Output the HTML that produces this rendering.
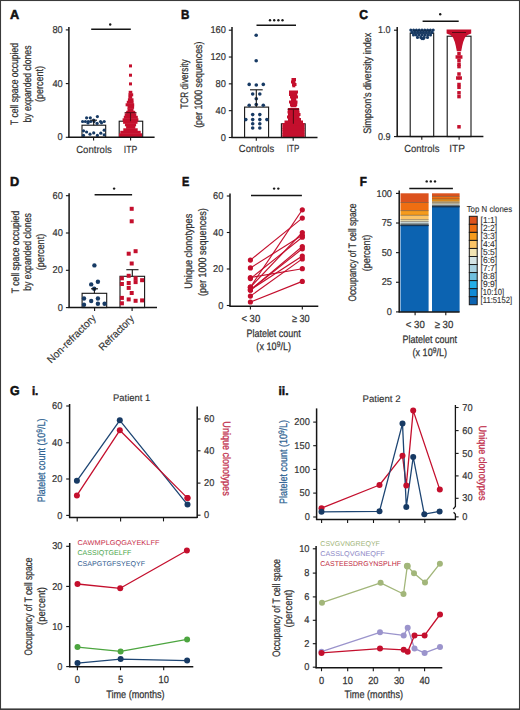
<!DOCTYPE html><html><head><meta charset="utf-8"><style>html,body{margin:0;padding:0;background:#fff;}svg{display:block;}text{font-family:"Liberation Sans",sans-serif;}</style></head><body>
<svg width="520" height="710" viewBox="0 0 520 710" text-rendering="geometricPrecision">
<rect x="0" y="0" width="520" height="710" fill="#fff"/>
<text x="10" y="19.3" font-size="13" fill="#111" text-anchor="start" stroke="#111" stroke-width="0.55" font-weight="bold" textLength="9.2" lengthAdjust="spacingAndGlyphs">A</text>
<text transform="translate(17.9 84) rotate(-90)" x="0" y="0" font-size="10.8" fill="#333" text-anchor="middle" stroke="#333" stroke-width="0.25" textLength="82" lengthAdjust="spacingAndGlyphs">T cell space occupied</text>
<text transform="translate(30.5 84) rotate(-90)" x="0" y="0" font-size="10.8" fill="#333" text-anchor="middle" stroke="#333" stroke-width="0.25" textLength="77" lengthAdjust="spacingAndGlyphs">by expanded clones</text>
<text transform="translate(42.9 84) rotate(-90)" x="0" y="0" font-size="10.8" fill="#333" text-anchor="middle" stroke="#333" stroke-width="0.25" textLength="36" lengthAdjust="spacingAndGlyphs">(percent)</text>
<rect x="82" y="125.2" width="23.7" height="12.1" fill="none" stroke="#151515" stroke-width="1.1"/>
<circle cx="86.6" cy="117.8" r="1.6" fill="#173a64"/>
<circle cx="90.3" cy="117.8" r="1.6" fill="#173a64"/>
<circle cx="97.4" cy="116.6" r="1.6" fill="#173a64"/>
<circle cx="82.6" cy="121.5" r="1.6" fill="#173a64"/>
<circle cx="85.4" cy="121.5" r="1.6" fill="#173a64"/>
<circle cx="88.2" cy="121.5" r="1.6" fill="#173a64"/>
<circle cx="90.6" cy="121.5" r="1.6" fill="#173a64"/>
<circle cx="94" cy="121.5" r="1.6" fill="#173a64"/>
<circle cx="100.5" cy="121.5" r="1.6" fill="#173a64"/>
<circle cx="104.2" cy="121.5" r="1.6" fill="#173a64"/>
<circle cx="97.1" cy="123.4" r="1.6" fill="#173a64"/>
<circle cx="93.7" cy="120" r="1.6" fill="#173a64"/>
<circle cx="83.5" cy="130.8" r="1.6" fill="#173a64"/>
<circle cx="86.6" cy="132" r="1.6" fill="#173a64"/>
<circle cx="90" cy="134.2" r="1.6" fill="#173a64"/>
<circle cx="93.7" cy="132.9" r="1.6" fill="#173a64"/>
<circle cx="97.4" cy="135.4" r="1.6" fill="#173a64"/>
<circle cx="100.8" cy="133.2" r="1.6" fill="#173a64"/>
<circle cx="104.2" cy="130.2" r="1.6" fill="#173a64"/>
<circle cx="83.5" cy="135.4" r="1.6" fill="#173a64"/>
<circle cx="104.2" cy="134.8" r="1.6" fill="#173a64"/>
<circle cx="88" cy="123" r="1.6" fill="#173a64"/>
<circle cx="101.5" cy="122.8" r="1.6" fill="#173a64"/>
<line x1="93.7" y1="125.2" x2="93.7" y2="120.2" stroke="#151515" stroke-width="1.1"/>
<line x1="90.5" y1="120.2" x2="97" y2="120.2" stroke="#151515" stroke-width="1.1"/>
<rect x="119.2" y="121.2" width="23.5" height="16.1" fill="none" stroke="#151515" stroke-width="1.1"/>
<rect x="128.7" y="90.8" width="3.6" height="3" fill="#c40f2d"/>
<rect x="128.4" y="93.3" width="4.8" height="3" fill="#c40f2d"/>
<rect x="128.4" y="95.8" width="3.8" height="3" fill="#c40f2d"/>
<rect x="127.9" y="98.3" width="5.6" height="3" fill="#c40f2d"/>
<rect x="126.8" y="100.8" width="6.8" height="3" fill="#c40f2d"/>
<rect x="125.6" y="103.3" width="8.6" height="3" fill="#c40f2d"/>
<rect x="127.5" y="105.8" width="6.6" height="3" fill="#c40f2d"/>
<rect x="127.5" y="108.3" width="6" height="3" fill="#c40f2d"/>
<rect x="126.2" y="110.8" width="9" height="3" fill="#c40f2d"/>
<rect x="124.7" y="113.3" width="11.6" height="3" fill="#c40f2d"/>
<rect x="123.8" y="115.8" width="14" height="3" fill="#c40f2d"/>
<rect x="122.6" y="118.3" width="15.8" height="3" fill="#c40f2d"/>
<rect x="123.1" y="120.8" width="14.4" height="3" fill="#c40f2d"/>
<rect x="124.9" y="123.3" width="11.2" height="3" fill="#c40f2d"/>
<rect x="126.1" y="125.8" width="9.2" height="3" fill="#c40f2d"/>
<rect x="123.3" y="128.3" width="14.4" height="3" fill="#c40f2d"/>
<rect x="120.3" y="130.8" width="20.4" height="3" fill="#c40f2d"/>
<rect x="119" y="133.3" width="23" height="3" fill="#c40f2d"/>
<rect x="119" y="135.3" width="23" height="1.9" fill="#c40f2d"/>
<rect x="129" y="64.4" width="3" height="3" fill="#c40f2d"/>
<rect x="129" y="73.7" width="3" height="3" fill="#c40f2d"/>
<rect x="129" y="82.4" width="3" height="3" fill="#c40f2d"/>
<line x1="130.5" y1="112.7" x2="130.5" y2="121.2" stroke="#5a0a14" stroke-width="1.1"/>
<line x1="124.6" y1="112.7" x2="136.5" y2="112.7" stroke="#5a0a14" stroke-width="1.1"/>
<line x1="68.9" y1="27" x2="68.9" y2="137.7" stroke="#151515" stroke-width="1.5"/>
<line x1="68.3" y1="137.3" x2="154.6" y2="137.3" stroke="#151515" stroke-width="1.5"/>
<line x1="65.8" y1="137.3" x2="68.9" y2="137.3" stroke="#151515" stroke-width="1.1"/>
<text x="62.7" y="140.4" font-size="9.9" fill="#333" text-anchor="end" stroke="#333" stroke-width="0.2" textLength="5.15" lengthAdjust="spacingAndGlyphs">0</text>
<line x1="65.8" y1="83.6" x2="68.9" y2="83.6" stroke="#151515" stroke-width="1.1"/>
<text x="62.7" y="86.7" font-size="9.9" fill="#333" text-anchor="end" stroke="#333" stroke-width="0.2" textLength="10.3" lengthAdjust="spacingAndGlyphs">40</text>
<line x1="65.8" y1="29.9" x2="68.9" y2="29.9" stroke="#151515" stroke-width="1.1"/>
<text x="62.7" y="33" font-size="9.9" fill="#333" text-anchor="end" stroke="#333" stroke-width="0.2" textLength="10.3" lengthAdjust="spacingAndGlyphs">80</text>
<line x1="93.6" y1="137.3" x2="93.6" y2="140.5" stroke="#151515" stroke-width="1.1"/>
<line x1="130.6" y1="137.3" x2="130.6" y2="140.5" stroke="#151515" stroke-width="1.1"/>
<text x="94" y="152.8" font-size="10.3" fill="#333" text-anchor="middle" stroke="#333" stroke-width="0.15" textLength="35.7" lengthAdjust="spacingAndGlyphs">Controls</text>
<text x="130.5" y="152.8" font-size="10.3" fill="#333" text-anchor="middle" stroke="#333" stroke-width="0.15" textLength="13.5" lengthAdjust="spacingAndGlyphs">ITP</text>
<line x1="91.2" y1="29.3" x2="130.8" y2="29.3" stroke="#151515" stroke-width="1.45"/>
<circle cx="110.2" cy="24.5" r="1.2" fill="#1a1a1a"/>
<text x="181" y="19.3" font-size="13" fill="#111" text-anchor="start" stroke="#111" stroke-width="0.55" font-weight="bold" textLength="8.4" lengthAdjust="spacingAndGlyphs">B</text>
<text transform="translate(188 84) rotate(-90)" x="0" y="0" font-size="10.8" fill="#333" text-anchor="middle" stroke="#333" stroke-width="0.25" textLength="49.4" lengthAdjust="spacingAndGlyphs">TCR diversity</text>
<text transform="translate(201.8 84.7) rotate(-90)" x="0" y="0" font-size="10.8" fill="#333" text-anchor="middle" stroke="#333" stroke-width="0.25" textLength="86.3" lengthAdjust="spacingAndGlyphs">(per 1000 sequences)</text>
<rect x="244.6" y="107.1" width="24" height="30.4" fill="none" stroke="#151515" stroke-width="1.1"/>
<circle cx="256.2" cy="35.2" r="1.8" fill="#173a64"/>
<circle cx="256.2" cy="60.8" r="1.8" fill="#173a64"/>
<circle cx="249.2" cy="84.4" r="1.8" fill="#173a64"/>
<circle cx="256.3" cy="85" r="1.8" fill="#173a64"/>
<circle cx="263.3" cy="84.4" r="1.8" fill="#173a64"/>
<circle cx="252.7" cy="94" r="1.8" fill="#173a64"/>
<circle cx="259.8" cy="94" r="1.8" fill="#173a64"/>
<circle cx="256.3" cy="98.8" r="1.8" fill="#173a64"/>
<circle cx="249.2" cy="105.2" r="1.8" fill="#173a64"/>
<circle cx="256.3" cy="104.5" r="1.8" fill="#173a64"/>
<circle cx="263.3" cy="105.2" r="1.8" fill="#173a64"/>
<circle cx="252.7" cy="114.6" r="1.8" fill="#173a64"/>
<circle cx="259.8" cy="114.6" r="1.8" fill="#173a64"/>
<circle cx="245.8" cy="119.6" r="1.8" fill="#173a64"/>
<circle cx="252.7" cy="119.6" r="1.8" fill="#173a64"/>
<circle cx="259.8" cy="119.6" r="1.8" fill="#173a64"/>
<circle cx="266.9" cy="119.6" r="1.8" fill="#173a64"/>
<circle cx="252.7" cy="123.8" r="1.8" fill="#173a64"/>
<circle cx="259.8" cy="123.8" r="1.8" fill="#173a64"/>
<circle cx="252.7" cy="128" r="1.8" fill="#173a64"/>
<circle cx="259.8" cy="128" r="1.8" fill="#173a64"/>
<line x1="256.3" y1="107.1" x2="256.3" y2="89.8" stroke="#151515" stroke-width="1.1"/>
<line x1="250" y1="89.8" x2="262.7" y2="89.8" stroke="#151515" stroke-width="1.1"/>
<rect x="281.4" y="123.8" width="23.8" height="13.7" fill="none" stroke="#151515" stroke-width="1.1"/>
<rect x="291.5" y="78" width="4.5" height="3" fill="#c40f2d"/>
<rect x="291" y="80.5" width="4.5" height="3" fill="#c40f2d"/>
<rect x="292" y="83" width="4.5" height="3" fill="#c40f2d"/>
<rect x="292.3" y="85.5" width="3" height="1.8" fill="#c40f2d"/>
<rect x="289" y="90.5" width="9" height="3" fill="#c40f2d"/>
<rect x="289" y="93" width="8.2" height="3" fill="#c40f2d"/>
<rect x="290" y="95.5" width="8" height="3" fill="#c40f2d"/>
<rect x="291" y="98" width="5.3" height="3" fill="#c40f2d"/>
<rect x="289" y="100.5" width="8.5" height="3" fill="#c40f2d"/>
<rect x="290" y="103" width="7.2" height="3" fill="#c40f2d"/>
<rect x="290.5" y="105.5" width="6" height="1.8" fill="#c40f2d"/>
<rect x="288" y="108" width="11" height="3" fill="#c40f2d"/>
<rect x="287.5" y="110.5" width="12" height="3" fill="#c40f2d"/>
<rect x="288" y="113" width="12.5" height="3" fill="#c40f2d"/>
<rect x="287" y="115.5" width="12.5" height="3" fill="#c40f2d"/>
<rect x="288" y="118" width="13" height="3" fill="#c40f2d"/>
<rect x="284.5" y="120.5" width="18.5" height="3" fill="#c40f2d"/>
<rect x="282.5" y="123" width="22" height="3" fill="#c40f2d"/>
<rect x="282.3" y="125.5" width="22.3" height="3" fill="#c40f2d"/>
<rect x="282.3" y="128" width="22.3" height="3" fill="#c40f2d"/>
<rect x="282.3" y="130.5" width="22.3" height="3" fill="#c40f2d"/>
<rect x="282.3" y="133" width="22.3" height="3" fill="#c40f2d"/>
<rect x="282.3" y="135.5" width="22.3" height="1.6" fill="#c40f2d"/>
<line x1="293.4" y1="109.2" x2="293.4" y2="123.8" stroke="#5a0a14" stroke-width="1.1"/>
<line x1="287.5" y1="109.2" x2="299.3" y2="109.2" stroke="#5a0a14" stroke-width="1.1"/>
<line x1="232" y1="27" x2="232" y2="137.9" stroke="#151515" stroke-width="1.5"/>
<line x1="231.4" y1="137.5" x2="317.5" y2="137.5" stroke="#151515" stroke-width="1.5"/>
<line x1="228.8" y1="137.5" x2="232" y2="137.5" stroke="#151515" stroke-width="1.1"/>
<text x="225.9" y="140.6" font-size="9.9" fill="#333" text-anchor="end" stroke="#333" stroke-width="0.2" textLength="5.15" lengthAdjust="spacingAndGlyphs">0</text>
<line x1="228.8" y1="110.67" x2="232" y2="110.67" stroke="#151515" stroke-width="1.1"/>
<text x="225.9" y="113.77" font-size="9.9" fill="#333" text-anchor="end" stroke="#333" stroke-width="0.2" textLength="10.3" lengthAdjust="spacingAndGlyphs">40</text>
<line x1="228.8" y1="83.85" x2="232" y2="83.85" stroke="#151515" stroke-width="1.1"/>
<text x="225.9" y="86.95" font-size="9.9" fill="#333" text-anchor="end" stroke="#333" stroke-width="0.2" textLength="10.3" lengthAdjust="spacingAndGlyphs">80</text>
<line x1="228.8" y1="57.03" x2="232" y2="57.03" stroke="#151515" stroke-width="1.1"/>
<text x="225.9" y="60.13" font-size="9.9" fill="#333" text-anchor="end" stroke="#333" stroke-width="0.2" textLength="15.45" lengthAdjust="spacingAndGlyphs">120</text>
<line x1="228.8" y1="30.2" x2="232" y2="30.2" stroke="#151515" stroke-width="1.1"/>
<text x="225.9" y="33.3" font-size="9.9" fill="#333" text-anchor="end" stroke="#333" stroke-width="0.2" textLength="15.45" lengthAdjust="spacingAndGlyphs">160</text>
<line x1="256.3" y1="137.5" x2="256.3" y2="140.7" stroke="#151515" stroke-width="1.1"/>
<line x1="293.2" y1="137.5" x2="293.2" y2="140.7" stroke="#151515" stroke-width="1.1"/>
<text x="256.5" y="152.4" font-size="10.3" fill="#333" text-anchor="middle" stroke="#333" stroke-width="0.15" textLength="35.5" lengthAdjust="spacingAndGlyphs">Controls</text>
<text x="293" y="152.4" font-size="10.3" fill="#333" text-anchor="middle" stroke="#333" stroke-width="0.15" textLength="12.5" lengthAdjust="spacingAndGlyphs">ITP</text>
<line x1="256.5" y1="25.2" x2="296" y2="25.2" stroke="#151515" stroke-width="1.45"/>
<circle cx="270" cy="20.3" r="1.2" fill="#1a1a1a"/>
<circle cx="274.2" cy="20.3" r="1.2" fill="#1a1a1a"/>
<circle cx="278.4" cy="20.3" r="1.2" fill="#1a1a1a"/>
<circle cx="282.5" cy="20.3" r="1.2" fill="#1a1a1a"/>
<text x="359.2" y="19.3" font-size="13" fill="#111" text-anchor="start" stroke="#111" stroke-width="0.55" font-weight="bold" textLength="8.7" lengthAdjust="spacingAndGlyphs">C</text>
<text transform="translate(370.7 83.3) rotate(-90)" x="0" y="0" font-size="10.8" fill="#333" text-anchor="middle" stroke="#333" stroke-width="0.25" textLength="101" lengthAdjust="spacingAndGlyphs">Simpson’s diversity index</text>
<rect x="410.2" y="33.1" width="23.5" height="103.5" fill="none" stroke="#151515" stroke-width="1.1"/>
<circle cx="410.8" cy="30.1" r="1.55" fill="#173a64"/>
<circle cx="413.6" cy="30.1" r="1.55" fill="#173a64"/>
<circle cx="416.4" cy="30.1" r="1.55" fill="#173a64"/>
<circle cx="419.2" cy="30.1" r="1.55" fill="#173a64"/>
<circle cx="422" cy="30.1" r="1.55" fill="#173a64"/>
<circle cx="424.8" cy="30.1" r="1.55" fill="#173a64"/>
<circle cx="427.6" cy="30.1" r="1.55" fill="#173a64"/>
<circle cx="430.4" cy="30.1" r="1.55" fill="#173a64"/>
<circle cx="433.2" cy="30.1" r="1.55" fill="#173a64"/>
<circle cx="412" cy="32.4" r="1.55" fill="#173a64"/>
<circle cx="414.86" cy="32.4" r="1.55" fill="#173a64"/>
<circle cx="417.71" cy="32.4" r="1.55" fill="#173a64"/>
<circle cx="420.57" cy="32.4" r="1.55" fill="#173a64"/>
<circle cx="423.43" cy="32.4" r="1.55" fill="#173a64"/>
<circle cx="426.29" cy="32.4" r="1.55" fill="#173a64"/>
<circle cx="429.14" cy="32.4" r="1.55" fill="#173a64"/>
<circle cx="432" cy="32.4" r="1.55" fill="#173a64"/>
<circle cx="413.5" cy="34.9" r="1.55" fill="#173a64"/>
<circle cx="416.33" cy="34.9" r="1.55" fill="#173a64"/>
<circle cx="419.17" cy="34.9" r="1.55" fill="#173a64"/>
<circle cx="422" cy="34.9" r="1.55" fill="#173a64"/>
<circle cx="424.83" cy="34.9" r="1.55" fill="#173a64"/>
<circle cx="427.67" cy="34.9" r="1.55" fill="#173a64"/>
<circle cx="430.5" cy="34.9" r="1.55" fill="#173a64"/>
<circle cx="417.5" cy="37.4" r="1.55" fill="#173a64"/>
<circle cx="420.83" cy="37.4" r="1.55" fill="#173a64"/>
<circle cx="424.17" cy="37.4" r="1.55" fill="#173a64"/>
<circle cx="427.5" cy="37.4" r="1.55" fill="#173a64"/>
<circle cx="422" cy="38.6" r="1.55" fill="#173a64"/>
<circle cx="423.5" cy="38.6" r="1.55" fill="#173a64"/>
<line x1="413" y1="30.8" x2="431" y2="30.8" stroke="#0d2a4a" stroke-width="1"/>
<rect x="447.2" y="36.2" width="23.8" height="100.4" fill="none" stroke="#151515" stroke-width="1.1"/>
<polygon fill="#c40f2d" points="446.6,29.4 471.2,29.4 471.2,33.4 467.5,35 465,37.5 463.2,42 462.2,46 461.2,51.2 456.8,51.2 455.8,46 454.8,42 453,37.5 450.5,35 446.6,33.4"/>
<rect x="457.25" y="51.95" width="3.5" height="3.5" fill="#c40f2d"/>
<rect x="455.55" y="55.25" width="3.5" height="3.5" fill="#c40f2d"/>
<rect x="458.95" y="55.25" width="3.5" height="3.5" fill="#c40f2d"/>
<rect x="457.25" y="58.55" width="3.5" height="3.5" fill="#c40f2d"/>
<rect x="457.25" y="62.45" width="3.5" height="3.5" fill="#c40f2d"/>
<rect x="457.25" y="64.85" width="3.5" height="3.5" fill="#c40f2d"/>
<rect x="457.25" y="72.25" width="3.5" height="3.5" fill="#c40f2d"/>
<rect x="456.05" y="76.25" width="3.5" height="3.5" fill="#c40f2d"/>
<rect x="458.45" y="76.25" width="3.5" height="3.5" fill="#c40f2d"/>
<rect x="457.25" y="82.75" width="3.5" height="3.5" fill="#c40f2d"/>
<rect x="457.25" y="85.55" width="3.5" height="3.5" fill="#c40f2d"/>
<rect x="457.25" y="91.05" width="3.5" height="3.5" fill="#c40f2d"/>
<rect x="457.25" y="94.85" width="3.5" height="3.5" fill="#c40f2d"/>
<rect x="457.25" y="125.05" width="3.5" height="3.5" fill="#c40f2d"/>
<line x1="452" y1="32.5" x2="466" y2="32.5" stroke="#5a0a14" stroke-width="1"/>
<line x1="397.2" y1="27" x2="397.2" y2="137" stroke="#151515" stroke-width="1.5"/>
<line x1="396.6" y1="136.6" x2="483.4" y2="136.6" stroke="#151515" stroke-width="1.5"/>
<line x1="394" y1="30.2" x2="397.2" y2="30.2" stroke="#151515" stroke-width="1.1"/>
<text x="390.6" y="33.3" font-size="9.9" fill="#333" text-anchor="end" stroke="#333" stroke-width="0.2" textLength="12.6" lengthAdjust="spacingAndGlyphs">1.0</text>
<line x1="394" y1="136.6" x2="397.2" y2="136.6" stroke="#151515" stroke-width="1.1"/>
<text x="390.6" y="139.7" font-size="9.9" fill="#333" text-anchor="end" stroke="#333" stroke-width="0.2" textLength="12.6" lengthAdjust="spacingAndGlyphs">0.9</text>
<line x1="421.8" y1="136.6" x2="421.8" y2="139.8" stroke="#151515" stroke-width="1.1"/>
<line x1="459.1" y1="136.6" x2="459.1" y2="139.8" stroke="#151515" stroke-width="1.1"/>
<text x="421.8" y="152.3" font-size="10.3" fill="#333" text-anchor="middle" stroke="#333" stroke-width="0.15" textLength="35.3" lengthAdjust="spacingAndGlyphs">Controls</text>
<text x="457.1" y="152.3" font-size="10.3" fill="#333" text-anchor="middle" stroke="#333" stroke-width="0.15" textLength="15.8" lengthAdjust="spacingAndGlyphs">ITP</text>
<line x1="422.6" y1="21.2" x2="458.7" y2="21.2" stroke="#151515" stroke-width="1.45"/>
<circle cx="440.2" cy="14.2" r="1.2" fill="#1a1a1a"/>
<text x="10" y="186" font-size="13" fill="#111" text-anchor="start" stroke="#111" stroke-width="0.55" font-weight="bold" textLength="9.2" lengthAdjust="spacingAndGlyphs">D</text>
<text transform="translate(18.8 252) rotate(-90)" x="0" y="0" font-size="10.8" fill="#333" text-anchor="middle" stroke="#333" stroke-width="0.25" textLength="82.3" lengthAdjust="spacingAndGlyphs">T cell space occupied</text>
<text transform="translate(31.3 252) rotate(-90)" x="0" y="0" font-size="10.8" fill="#333" text-anchor="middle" stroke="#333" stroke-width="0.25" textLength="77.7" lengthAdjust="spacingAndGlyphs">by expanded clones</text>
<text transform="translate(43.8 252) rotate(-90)" x="0" y="0" font-size="10.8" fill="#333" text-anchor="middle" stroke="#333" stroke-width="0.25" textLength="36.6" lengthAdjust="spacingAndGlyphs">(percent)</text>
<rect x="82.1" y="293.3" width="24.6" height="14.3" fill="none" stroke="#151515" stroke-width="1.1"/>
<circle cx="94.4" cy="265.4" r="2.2" fill="#173a64"/>
<circle cx="97.9" cy="281.7" r="2.2" fill="#173a64"/>
<circle cx="91.2" cy="284.4" r="2.2" fill="#173a64"/>
<circle cx="94.2" cy="288.8" r="2.2" fill="#173a64"/>
<circle cx="84" cy="298.5" r="2.2" fill="#173a64"/>
<circle cx="91.2" cy="301" r="2.2" fill="#173a64"/>
<circle cx="97.9" cy="298.5" r="2.2" fill="#173a64"/>
<circle cx="84" cy="304.8" r="2.2" fill="#173a64"/>
<circle cx="97.9" cy="303.8" r="2.2" fill="#173a64"/>
<circle cx="104.6" cy="303.8" r="2.2" fill="#173a64"/>
<line x1="94.4" y1="293.3" x2="94.4" y2="288.8" stroke="#151515" stroke-width="1.1"/>
<line x1="91" y1="288.8" x2="98" y2="288.8" stroke="#151515" stroke-width="1.1"/>
<rect x="120" y="276.3" width="24.6" height="31.3" fill="none" stroke="#151515" stroke-width="1.1"/>
<line x1="132.3" y1="276.3" x2="132.3" y2="269.7" stroke="#151515" stroke-width="1.1"/>
<line x1="126.3" y1="269.7" x2="138.5" y2="269.7" stroke="#151515" stroke-width="1.1"/>
<rect x="129.7" y="206.8" width="4" height="4" fill="#c40f2d"/>
<rect x="129.7" y="219.3" width="4" height="4" fill="#c40f2d"/>
<rect x="126.7" y="251.7" width="4" height="4" fill="#c40f2d"/>
<rect x="133.6" y="249.2" width="4" height="4" fill="#c40f2d"/>
<rect x="129.7" y="261.5" width="4" height="4" fill="#c40f2d"/>
<rect x="126.7" y="273.8" width="4" height="4" fill="#c40f2d"/>
<rect x="119.9" y="276.3" width="4" height="4" fill="#c40f2d"/>
<rect x="133.6" y="276.3" width="4" height="4" fill="#c40f2d"/>
<rect x="140.1" y="278.2" width="4" height="4" fill="#c40f2d"/>
<rect x="119.9" y="282" width="4" height="4" fill="#c40f2d"/>
<rect x="126.7" y="281" width="4" height="4" fill="#c40f2d"/>
<rect x="133.6" y="280.1" width="4" height="4" fill="#c40f2d"/>
<rect x="126.7" y="285.9" width="4" height="4" fill="#c40f2d"/>
<rect x="129.7" y="291" width="4" height="4" fill="#c40f2d"/>
<rect x="119.9" y="295.9" width="4" height="4" fill="#c40f2d"/>
<rect x="126.7" y="297.4" width="4" height="4" fill="#c40f2d"/>
<rect x="133.6" y="298.8" width="4" height="4" fill="#c40f2d"/>
<rect x="140.1" y="298.4" width="4" height="4" fill="#c40f2d"/>
<rect x="119.9" y="301.3" width="4" height="4" fill="#c40f2d"/>
<line x1="69.1" y1="193.2" x2="69.1" y2="308" stroke="#151515" stroke-width="1.5"/>
<line x1="68.5" y1="307.6" x2="157" y2="307.6" stroke="#151515" stroke-width="1.5"/>
<line x1="65.9" y1="307.6" x2="69.1" y2="307.6" stroke="#151515" stroke-width="1.1"/>
<text x="62.9" y="310.7" font-size="9.9" fill="#333" text-anchor="end" stroke="#333" stroke-width="0.2" textLength="5.15" lengthAdjust="spacingAndGlyphs">0</text>
<line x1="65.9" y1="270.3" x2="69.1" y2="270.3" stroke="#151515" stroke-width="1.1"/>
<text x="62.9" y="273.4" font-size="9.9" fill="#333" text-anchor="end" stroke="#333" stroke-width="0.2" textLength="10.3" lengthAdjust="spacingAndGlyphs">20</text>
<line x1="65.9" y1="233" x2="69.1" y2="233" stroke="#151515" stroke-width="1.1"/>
<text x="62.9" y="236.1" font-size="9.9" fill="#333" text-anchor="end" stroke="#333" stroke-width="0.2" textLength="10.3" lengthAdjust="spacingAndGlyphs">40</text>
<line x1="65.9" y1="195.7" x2="69.1" y2="195.7" stroke="#151515" stroke-width="1.1"/>
<text x="62.9" y="198.8" font-size="9.9" fill="#333" text-anchor="end" stroke="#333" stroke-width="0.2" textLength="10.3" lengthAdjust="spacingAndGlyphs">60</text>
<line x1="94.6" y1="307.6" x2="94.6" y2="311" stroke="#151515" stroke-width="1.1"/>
<line x1="132.1" y1="307.6" x2="132.1" y2="311" stroke="#151515" stroke-width="1.1"/>
<text transform="translate(96.6 318.6) rotate(-45)" x="0" y="0" font-size="10.3" fill="#333" text-anchor="end" stroke="#333" stroke-width="0.15" textLength="64" lengthAdjust="spacingAndGlyphs">Non-refractory</text>
<text transform="translate(134.6 319.4) rotate(-45)" x="0" y="0" font-size="10.3" fill="#333" text-anchor="end" stroke="#333" stroke-width="0.15" textLength="45" lengthAdjust="spacingAndGlyphs">Refractory</text>
<line x1="94.6" y1="194.8" x2="132.1" y2="194.8" stroke="#151515" stroke-width="1.45"/>
<circle cx="114.1" cy="188.6" r="1.2" fill="#1a1a1a"/>
<text x="181.9" y="186.3" font-size="13" fill="#111" text-anchor="start" stroke="#111" stroke-width="0.55" font-weight="bold" textLength="7.3" lengthAdjust="spacingAndGlyphs">E</text>
<text transform="translate(191.5 251.3) rotate(-90)" x="0" y="0" font-size="10.8" fill="#333" text-anchor="middle" stroke="#333" stroke-width="0.25" textLength="75" lengthAdjust="spacingAndGlyphs">Unique clonotypes</text>
<text transform="translate(205.7 252.2) rotate(-90)" x="0" y="0" font-size="10.8" fill="#333" text-anchor="middle" stroke="#333" stroke-width="0.25" textLength="87.8" lengthAdjust="spacingAndGlyphs">(per 1000 sequences)</text>
<line x1="250.4" y1="260.1" x2="302.3" y2="218.1" stroke="#c40f2d" stroke-width="1.15"/>
<line x1="250.4" y1="267.9" x2="302.3" y2="235.3" stroke="#c40f2d" stroke-width="1.15"/>
<line x1="250.4" y1="277.5" x2="302.3" y2="268.7" stroke="#c40f2d" stroke-width="1.15"/>
<line x1="250.4" y1="287.2" x2="302.3" y2="209.8" stroke="#c40f2d" stroke-width="1.15"/>
<line x1="250.4" y1="287.2" x2="302.3" y2="232.5" stroke="#c40f2d" stroke-width="1.15"/>
<line x1="250.4" y1="289.9" x2="302.3" y2="246.5" stroke="#c40f2d" stroke-width="1.15"/>
<line x1="250.4" y1="289.9" x2="302.3" y2="248.8" stroke="#c40f2d" stroke-width="1.15"/>
<line x1="250.4" y1="278.6" x2="302.3" y2="237.2" stroke="#c40f2d" stroke-width="1.15"/>
<line x1="250.4" y1="296.1" x2="302.3" y2="258.9" stroke="#c40f2d" stroke-width="1.15"/>
<line x1="250.4" y1="289.9" x2="302.3" y2="256.1" stroke="#c40f2d" stroke-width="1.15"/>
<line x1="250.4" y1="302" x2="302.3" y2="281.4" stroke="#c40f2d" stroke-width="1.15"/>
<circle cx="250.4" cy="260.1" r="2.6" fill="#c40f2d"/>
<circle cx="302.3" cy="218.1" r="2.6" fill="#c40f2d"/>
<circle cx="250.4" cy="267.9" r="2.6" fill="#c40f2d"/>
<circle cx="302.3" cy="235.3" r="2.6" fill="#c40f2d"/>
<circle cx="250.4" cy="277.5" r="2.6" fill="#c40f2d"/>
<circle cx="302.3" cy="268.7" r="2.6" fill="#c40f2d"/>
<circle cx="250.4" cy="287.2" r="2.6" fill="#c40f2d"/>
<circle cx="302.3" cy="209.8" r="2.6" fill="#c40f2d"/>
<circle cx="250.4" cy="287.2" r="2.6" fill="#c40f2d"/>
<circle cx="302.3" cy="232.5" r="2.6" fill="#c40f2d"/>
<circle cx="250.4" cy="289.9" r="2.6" fill="#c40f2d"/>
<circle cx="302.3" cy="246.5" r="2.6" fill="#c40f2d"/>
<circle cx="250.4" cy="289.9" r="2.6" fill="#c40f2d"/>
<circle cx="302.3" cy="248.8" r="2.6" fill="#c40f2d"/>
<circle cx="250.4" cy="278.6" r="2.6" fill="#c40f2d"/>
<circle cx="302.3" cy="237.2" r="2.6" fill="#c40f2d"/>
<circle cx="250.4" cy="296.1" r="2.6" fill="#c40f2d"/>
<circle cx="302.3" cy="258.9" r="2.6" fill="#c40f2d"/>
<circle cx="250.4" cy="289.9" r="2.6" fill="#c40f2d"/>
<circle cx="302.3" cy="256.1" r="2.6" fill="#c40f2d"/>
<circle cx="250.4" cy="302" r="2.6" fill="#c40f2d"/>
<circle cx="302.3" cy="281.4" r="2.6" fill="#c40f2d"/>
<line x1="230" y1="193.5" x2="230" y2="306.6" stroke="#151515" stroke-width="1.5"/>
<line x1="229.4" y1="306.2" x2="318.3" y2="306.2" stroke="#151515" stroke-width="1.5"/>
<line x1="226.8" y1="305.5" x2="230" y2="305.5" stroke="#151515" stroke-width="1.1"/>
<text x="223.3" y="308.6" font-size="9.9" fill="#333" text-anchor="end" stroke="#333" stroke-width="0.2" textLength="5.15" lengthAdjust="spacingAndGlyphs">0</text>
<line x1="226.8" y1="269" x2="230" y2="269" stroke="#151515" stroke-width="1.1"/>
<text x="223.3" y="272.1" font-size="9.9" fill="#333" text-anchor="end" stroke="#333" stroke-width="0.2" textLength="10.3" lengthAdjust="spacingAndGlyphs">20</text>
<line x1="226.8" y1="232.5" x2="230" y2="232.5" stroke="#151515" stroke-width="1.1"/>
<text x="223.3" y="235.6" font-size="9.9" fill="#333" text-anchor="end" stroke="#333" stroke-width="0.2" textLength="10.3" lengthAdjust="spacingAndGlyphs">40</text>
<line x1="226.8" y1="196" x2="230" y2="196" stroke="#151515" stroke-width="1.1"/>
<text x="223.3" y="199.1" font-size="9.9" fill="#333" text-anchor="end" stroke="#333" stroke-width="0.2" textLength="10.3" lengthAdjust="spacingAndGlyphs">60</text>
<line x1="250.4" y1="306.2" x2="250.4" y2="309.5" stroke="#151515" stroke-width="1.1"/>
<line x1="302.3" y1="306.2" x2="302.3" y2="309.5" stroke="#151515" stroke-width="1.1"/>
<text x="250.8" y="321.5" font-size="10.4" fill="#333" text-anchor="middle" stroke="#333" stroke-width="0.25" textLength="18.8" lengthAdjust="spacingAndGlyphs">&lt; 30</text>
<text x="300.8" y="321.5" font-size="10.4" fill="#333" text-anchor="middle" stroke="#333" stroke-width="0.25" textLength="17.8" lengthAdjust="spacingAndGlyphs">≥ 30</text>
<text x="273.6" y="336.9" font-size="10.8" fill="#333" text-anchor="middle" stroke="#333" stroke-width="0.25" textLength="54.2" lengthAdjust="spacingAndGlyphs">Platelet count</text>
<text x="273.7" y="350.1" font-size="10.8" fill="#333" text-anchor="middle" stroke="#333" stroke-width="0.25" textLength="34.7" lengthAdjust="spacingAndGlyphs">(x 10<tspan font-size="8" dy="-3.2">9</tspan><tspan dy="3.2">/L)</tspan></text>
<line x1="251" y1="195.4" x2="301.9" y2="195.4" stroke="#151515" stroke-width="1.45"/>
<circle cx="274.1" cy="188.6" r="1.2" fill="#1a1a1a"/>
<circle cx="278.3" cy="188.6" r="1.2" fill="#1a1a1a"/>
<text x="359.8" y="186.3" font-size="13" fill="#111" text-anchor="start" stroke="#111" stroke-width="0.55" font-weight="bold" textLength="7.1" lengthAdjust="spacingAndGlyphs">F</text>
<text transform="translate(356 252.6) rotate(-90)" x="0" y="0" font-size="10.8" fill="#333" text-anchor="middle" stroke="#333" stroke-width="0.25" textLength="98" lengthAdjust="spacingAndGlyphs">Occupancy of T cell space</text>
<text transform="translate(369.5 253) rotate(-90)" x="0" y="0" font-size="10.8" fill="#333" text-anchor="middle" stroke="#333" stroke-width="0.25" textLength="36.6" lengthAdjust="spacingAndGlyphs">(percent)</text>
<rect x="400.5" y="193.3" width="28.1" height="9.2" fill="#dc521d"/>
<rect x="400.5" y="202.5" width="28.1" height="8.1" fill="#ef6e11"/>
<rect x="400.5" y="210.6" width="28.1" height="4.7" fill="#f59b1d"/>
<rect x="400.5" y="215.3" width="28.1" height="4.4" fill="#fbc467"/>
<rect x="400.5" y="219.7" width="28.1" height="1.9" fill="#f1e4b4"/>
<rect x="400.5" y="221.6" width="28.1" height="1.8" fill="#d4e4e6"/>
<rect x="400.5" y="223.4" width="28.1" height="1.1" fill="#a8d2e2"/>
<rect x="400.5" y="224.5" width="28.1" height="0.5" fill="#6fc0e0"/>
<rect x="400.5" y="225" width="28.1" height="0.3" fill="#25afe9"/>
<rect x="400.5" y="225.3" width="28.1" height="0.3" fill="#108ad7"/>
<rect x="400.5" y="225.6" width="28.1" height="86.3" fill="#0c63b1"/>
<line x1="400.5" y1="202.5" x2="428.6" y2="202.5" stroke="#3a2a20" stroke-width="0.45"/>
<line x1="400.5" y1="210.6" x2="428.6" y2="210.6" stroke="#3a2a20" stroke-width="0.45"/>
<line x1="400.5" y1="215.3" x2="428.6" y2="215.3" stroke="#3a2a20" stroke-width="0.45"/>
<line x1="400.5" y1="219.7" x2="428.6" y2="219.7" stroke="#3a2a20" stroke-width="0.45"/>
<line x1="400.5" y1="221.6" x2="428.6" y2="221.6" stroke="#3a2a20" stroke-width="0.45"/>
<line x1="400.5" y1="223.4" x2="428.6" y2="223.4" stroke="#3a2a20" stroke-width="0.45"/>
<line x1="400.5" y1="224.5" x2="428.6" y2="224.5" stroke="#3a2a20" stroke-width="0.45"/>
<line x1="400.5" y1="225" x2="428.6" y2="225" stroke="#3a2a20" stroke-width="0.45"/>
<line x1="400.5" y1="225.3" x2="428.6" y2="225.3" stroke="#3a2a20" stroke-width="0.45"/>
<line x1="400.5" y1="225.6" x2="428.6" y2="225.6" stroke="#3a2a20" stroke-width="0.45"/>
<line x1="400.5" y1="225.6" x2="428.6" y2="225.6" stroke="#0b2f55" stroke-width="0.9"/>
<rect x="432" y="193.3" width="27.6" height="3.1" fill="#dc521d"/>
<rect x="432" y="196.4" width="27.6" height="2.7" fill="#ef6e11"/>
<rect x="432" y="199.1" width="27.6" height="2.1" fill="#f59b1d"/>
<rect x="432" y="201.2" width="27.6" height="1.3" fill="#fbc467"/>
<rect x="432" y="202.5" width="27.6" height="1.3" fill="#f1e4b4"/>
<rect x="432" y="203.8" width="27.6" height="1.5" fill="#d4e4e6"/>
<rect x="432" y="205.3" width="27.6" height="0.6" fill="#a8d2e2"/>
<rect x="432" y="205.9" width="27.6" height="0.3" fill="#6fc0e0"/>
<rect x="432" y="206.2" width="27.6" height="0.3" fill="#25afe9"/>
<rect x="432" y="206.5" width="27.6" height="0.3" fill="#108ad7"/>
<rect x="432" y="206.8" width="27.6" height="105.1" fill="#0c63b1"/>
<line x1="432" y1="196.4" x2="459.6" y2="196.4" stroke="#3a2a20" stroke-width="0.45"/>
<line x1="432" y1="199.1" x2="459.6" y2="199.1" stroke="#3a2a20" stroke-width="0.45"/>
<line x1="432" y1="201.2" x2="459.6" y2="201.2" stroke="#3a2a20" stroke-width="0.45"/>
<line x1="432" y1="202.5" x2="459.6" y2="202.5" stroke="#3a2a20" stroke-width="0.45"/>
<line x1="432" y1="203.8" x2="459.6" y2="203.8" stroke="#3a2a20" stroke-width="0.45"/>
<line x1="432" y1="205.3" x2="459.6" y2="205.3" stroke="#3a2a20" stroke-width="0.45"/>
<line x1="432" y1="205.9" x2="459.6" y2="205.9" stroke="#3a2a20" stroke-width="0.45"/>
<line x1="432" y1="206.2" x2="459.6" y2="206.2" stroke="#3a2a20" stroke-width="0.45"/>
<line x1="432" y1="206.5" x2="459.6" y2="206.5" stroke="#3a2a20" stroke-width="0.45"/>
<line x1="432" y1="206.8" x2="459.6" y2="206.8" stroke="#3a2a20" stroke-width="0.45"/>
<line x1="432" y1="206.8" x2="459.6" y2="206.8" stroke="#0b2f55" stroke-width="0.9"/>
<line x1="399.2" y1="190.5" x2="399.2" y2="312.3" stroke="#151515" stroke-width="1.5"/>
<line x1="398.6" y1="311.9" x2="459.6" y2="311.9" stroke="#151515" stroke-width="1.5"/>
<line x1="396" y1="311.9" x2="399.2" y2="311.9" stroke="#151515" stroke-width="1.1"/>
<text x="392" y="315" font-size="9.9" fill="#333" text-anchor="end" stroke="#333" stroke-width="0.2" textLength="5.15" lengthAdjust="spacingAndGlyphs">0</text>
<line x1="396" y1="282.27" x2="399.2" y2="282.27" stroke="#151515" stroke-width="1.1"/>
<text x="392" y="285.38" font-size="9.9" fill="#333" text-anchor="end" stroke="#333" stroke-width="0.2" textLength="10.3" lengthAdjust="spacingAndGlyphs">25</text>
<line x1="396" y1="252.65" x2="399.2" y2="252.65" stroke="#151515" stroke-width="1.1"/>
<text x="392" y="255.75" font-size="9.9" fill="#333" text-anchor="end" stroke="#333" stroke-width="0.2" textLength="10.3" lengthAdjust="spacingAndGlyphs">50</text>
<line x1="396" y1="223.02" x2="399.2" y2="223.02" stroke="#151515" stroke-width="1.1"/>
<text x="392" y="226.12" font-size="9.9" fill="#333" text-anchor="end" stroke="#333" stroke-width="0.2" textLength="10.3" lengthAdjust="spacingAndGlyphs">75</text>
<line x1="396" y1="193.4" x2="399.2" y2="193.4" stroke="#151515" stroke-width="1.1"/>
<text x="392" y="196.5" font-size="9.9" fill="#333" text-anchor="end" stroke="#333" stroke-width="0.2" textLength="15.45" lengthAdjust="spacingAndGlyphs">100</text>
<line x1="415.1" y1="311.9" x2="415.1" y2="315.3" stroke="#151515" stroke-width="1.1"/>
<line x1="445.8" y1="311.9" x2="445.8" y2="315.3" stroke="#151515" stroke-width="1.1"/>
<text x="415.3" y="327.9" font-size="10.4" fill="#333" text-anchor="middle" stroke="#333" stroke-width="0.25" textLength="19" lengthAdjust="spacingAndGlyphs">&lt; 30</text>
<text x="444" y="327.9" font-size="10.4" fill="#333" text-anchor="middle" stroke="#333" stroke-width="0.25" textLength="18.7" lengthAdjust="spacingAndGlyphs">≥ 30</text>
<text x="429.8" y="343.2" font-size="10.8" fill="#333" text-anchor="middle" stroke="#333" stroke-width="0.25" textLength="54.5" lengthAdjust="spacingAndGlyphs">Platelet count</text>
<text x="429.8" y="356.2" font-size="10.8" fill="#333" text-anchor="middle" stroke="#333" stroke-width="0.25" textLength="34.5" lengthAdjust="spacingAndGlyphs">(x 10<tspan font-size="8" dy="-3.2">9</tspan><tspan dy="3.2">/L)</tspan></text>
<line x1="409.3" y1="188.5" x2="452.9" y2="188.5" stroke="#151515" stroke-width="1.45"/>
<circle cx="426.7" cy="181.4" r="1.2" fill="#1a1a1a"/>
<circle cx="430.8" cy="181.4" r="1.2" fill="#1a1a1a"/>
<circle cx="435" cy="181.4" r="1.2" fill="#1a1a1a"/>
<text x="466.7" y="212.1" font-size="8.6" fill="#333" text-anchor="start" stroke="#333" stroke-width="0.12" textLength="45.4" lengthAdjust="spacingAndGlyphs">Top N clones</text>
<rect x="469.3" y="216.3" width="7.9" height="8.04" fill="#dc521d" stroke="#1a1a1a" stroke-width="1"/>
<text x="480.6" y="222.9" font-size="8.8" fill="#333" text-anchor="start" stroke="#333" stroke-width="0.12" textLength="16.5" lengthAdjust="spacingAndGlyphs">[1:1]</text>
<rect x="469.3" y="224.34" width="7.9" height="8.04" fill="#ef6e11" stroke="#1a1a1a" stroke-width="1"/>
<text x="480.6" y="230.94" font-size="8.8" fill="#333" text-anchor="start" stroke="#333" stroke-width="0.12" textLength="16.5" lengthAdjust="spacingAndGlyphs">[2:2]</text>
<rect x="469.3" y="232.38" width="7.9" height="8.04" fill="#f59b1d" stroke="#1a1a1a" stroke-width="1"/>
<text x="480.6" y="238.98" font-size="8.8" fill="#333" text-anchor="start" stroke="#333" stroke-width="0.12" textLength="16.5" lengthAdjust="spacingAndGlyphs">[3:3]</text>
<rect x="469.3" y="240.42" width="7.9" height="8.04" fill="#fbc467" stroke="#1a1a1a" stroke-width="1"/>
<text x="480.6" y="247.02" font-size="8.8" fill="#333" text-anchor="start" stroke="#333" stroke-width="0.12" textLength="16.5" lengthAdjust="spacingAndGlyphs">[4:4]</text>
<rect x="469.3" y="248.46" width="7.9" height="8.04" fill="#f1e4b4" stroke="#1a1a1a" stroke-width="1"/>
<text x="480.6" y="255.06" font-size="8.8" fill="#333" text-anchor="start" stroke="#333" stroke-width="0.12" textLength="16.5" lengthAdjust="spacingAndGlyphs">[5:5]</text>
<rect x="469.3" y="256.5" width="7.9" height="8.04" fill="#d4e4e6" stroke="#1a1a1a" stroke-width="1"/>
<text x="480.6" y="263.1" font-size="8.8" fill="#333" text-anchor="start" stroke="#333" stroke-width="0.12" textLength="16.5" lengthAdjust="spacingAndGlyphs">[6:6]</text>
<rect x="469.3" y="264.54" width="7.9" height="8.04" fill="#a8d2e2" stroke="#1a1a1a" stroke-width="1"/>
<text x="480.6" y="271.14" font-size="8.8" fill="#333" text-anchor="start" stroke="#333" stroke-width="0.12" textLength="16.5" lengthAdjust="spacingAndGlyphs">[7:7]</text>
<rect x="469.3" y="272.58" width="7.9" height="8.04" fill="#6fc0e0" stroke="#1a1a1a" stroke-width="1"/>
<text x="480.6" y="279.18" font-size="8.8" fill="#333" text-anchor="start" stroke="#333" stroke-width="0.12" textLength="16.5" lengthAdjust="spacingAndGlyphs">[8:8]</text>
<rect x="469.3" y="280.62" width="7.9" height="8.04" fill="#25afe9" stroke="#1a1a1a" stroke-width="1"/>
<text x="480.6" y="287.22" font-size="8.8" fill="#333" text-anchor="start" stroke="#333" stroke-width="0.12" textLength="16.5" lengthAdjust="spacingAndGlyphs">[9:9]</text>
<rect x="469.3" y="288.66" width="7.9" height="8.04" fill="#108ad7" stroke="#1a1a1a" stroke-width="1"/>
<text x="480.6" y="295.26" font-size="8.8" fill="#333" text-anchor="start" stroke="#333" stroke-width="0.12" textLength="23.5" lengthAdjust="spacingAndGlyphs">[10:10]</text>
<rect x="469.3" y="296.7" width="7.9" height="8.04" fill="#0c63b1" stroke="#1a1a1a" stroke-width="1"/>
<text x="480.6" y="303.3" font-size="8.8" fill="#333" text-anchor="start" stroke="#333" stroke-width="0.12" textLength="31.5" lengthAdjust="spacingAndGlyphs">[11:5152]</text>
<text x="10" y="395.4" font-size="13" fill="#111" text-anchor="start" stroke="#111" stroke-width="0.55" font-weight="bold" textLength="9.6" lengthAdjust="spacingAndGlyphs">G</text>
<text x="31.9" y="395.4" font-size="12" fill="#111" text-anchor="start" stroke="#111" stroke-width="0.5" font-weight="bold" textLength="6.4" lengthAdjust="spacingAndGlyphs">i.</text>
<text x="278.5" y="395.4" font-size="12" fill="#111" text-anchor="start" stroke="#111" stroke-width="0.5" font-weight="bold" textLength="10.1" lengthAdjust="spacingAndGlyphs">ii.</text>
<text x="131.6" y="401" font-size="9.6" fill="#333" text-anchor="middle" stroke="#333" stroke-width="0.15" textLength="37.2" lengthAdjust="spacingAndGlyphs">Patient 1</text>
<text transform="translate(45.3 460.4) rotate(-90)" x="0" y="0" font-size="10.8" fill="#2c5f91" text-anchor="middle" stroke="#2c5f91" stroke-width="0.25" textLength="83.6" lengthAdjust="spacingAndGlyphs">Platelet count (10<tspan font-size="8" dy="-3.2">9</tspan><tspan dy="3.2">/L)</tspan></text>
<text transform="translate(222.6 458.5) rotate(90)" x="0" y="0" font-size="10.8" fill="#c02846" text-anchor="middle" stroke="#c02846" stroke-width="0.25" textLength="74.3" lengthAdjust="spacingAndGlyphs">Unique clonotypes</text>
<line x1="69.6" y1="404" x2="69.6" y2="517.8" stroke="#151515" stroke-width="1.5"/>
<line x1="66.2" y1="515.4" x2="69.6" y2="515.4" stroke="#151515" stroke-width="1.1"/>
<text x="62.4" y="518.5" font-size="9.9" fill="#333" text-anchor="end" stroke="#333" stroke-width="0.2" textLength="5.15" lengthAdjust="spacingAndGlyphs">0</text>
<line x1="66.2" y1="479" x2="69.6" y2="479" stroke="#151515" stroke-width="1.1"/>
<text x="62.4" y="482.1" font-size="9.9" fill="#333" text-anchor="end" stroke="#333" stroke-width="0.2" textLength="10.3" lengthAdjust="spacingAndGlyphs">20</text>
<line x1="66.2" y1="442.8" x2="69.6" y2="442.8" stroke="#151515" stroke-width="1.1"/>
<text x="62.4" y="445.9" font-size="9.9" fill="#333" text-anchor="end" stroke="#333" stroke-width="0.2" textLength="10.3" lengthAdjust="spacingAndGlyphs">40</text>
<line x1="66.2" y1="406" x2="69.6" y2="406" stroke="#151515" stroke-width="1.1"/>
<text x="62.4" y="409.1" font-size="9.9" fill="#333" text-anchor="end" stroke="#333" stroke-width="0.2" textLength="10.3" lengthAdjust="spacingAndGlyphs">60</text>
<line x1="69" y1="517.5" x2="197.3" y2="517.5" stroke="#151515" stroke-width="1.5"/>
<line x1="77.2" y1="517.5" x2="77.2" y2="521.4" stroke="#151515" stroke-width="1.1"/>
<line x1="120.6" y1="517.5" x2="120.6" y2="521.4" stroke="#151515" stroke-width="1.1"/>
<line x1="163.5" y1="517.5" x2="163.5" y2="521.4" stroke="#151515" stroke-width="1.1"/>
<line x1="197.2" y1="406.5" x2="197.2" y2="518.1" stroke="#151515" stroke-width="1.5"/>
<line x1="197.2" y1="515.2" x2="200.5" y2="515.2" stroke="#151515" stroke-width="1.1"/>
<text x="204" y="518.3" font-size="9.9" fill="#333" text-anchor="start" stroke="#333" stroke-width="0.2" textLength="5.15" lengthAdjust="spacingAndGlyphs">0</text>
<line x1="197.2" y1="483.1" x2="200.5" y2="483.1" stroke="#151515" stroke-width="1.1"/>
<text x="204" y="486.2" font-size="9.9" fill="#333" text-anchor="start" stroke="#333" stroke-width="0.2" textLength="10.3" lengthAdjust="spacingAndGlyphs">20</text>
<line x1="197.2" y1="450.8" x2="200.5" y2="450.8" stroke="#151515" stroke-width="1.1"/>
<text x="204" y="453.9" font-size="9.9" fill="#333" text-anchor="start" stroke="#333" stroke-width="0.2" textLength="10.3" lengthAdjust="spacingAndGlyphs">40</text>
<line x1="197.2" y1="419" x2="200.5" y2="419" stroke="#151515" stroke-width="1.1"/>
<text x="204" y="422.1" font-size="9.9" fill="#333" text-anchor="start" stroke="#333" stroke-width="0.2" textLength="10.3" lengthAdjust="spacingAndGlyphs">60</text>
<polyline points="76.9,480.8 119.8,420.3 187.5,504.6" fill="none" stroke="#1d4573" stroke-width="1.3" stroke-linejoin="round"/>
<polyline points="76.9,495.4 119.8,430.3 187.5,498.1" fill="none" stroke="#c40f2d" stroke-width="1.3" stroke-linejoin="round"/>
<circle cx="76.9" cy="495.4" r="3" fill="#c40f2d"/>
<circle cx="119.8" cy="430.3" r="3" fill="#c40f2d"/>
<circle cx="187.5" cy="498.1" r="3" fill="#c40f2d"/>
<circle cx="76.9" cy="480.8" r="3" fill="#173a64"/>
<circle cx="119.8" cy="420.3" r="3" fill="#173a64"/>
<circle cx="187.5" cy="504.6" r="3" fill="#173a64"/>
<circle cx="187.5" cy="498.1" r="3" fill="#c40f2d"/>
<text transform="translate(31.6 606.6) rotate(-90)" x="0" y="0" font-size="10.8" fill="#333" text-anchor="middle" stroke="#333" stroke-width="0.25" textLength="98" lengthAdjust="spacingAndGlyphs">Occupancy of T cell space</text>
<text transform="translate(45.4 606) rotate(-90)" x="0" y="0" font-size="10.8" fill="#333" text-anchor="middle" stroke="#333" stroke-width="0.25" textLength="38" lengthAdjust="spacingAndGlyphs">(percent)</text>
<text x="77.5" y="544.6" font-size="7" fill="#c8304a" text-anchor="start" textLength="82" lengthAdjust="spacingAndGlyphs">CAWMPLGQGAYEKLFF</text>
<text x="77.5" y="555.1" font-size="7" fill="#4aa64a" text-anchor="start" textLength="53.8" lengthAdjust="spacingAndGlyphs">CASSIQTGELFF</text>
<text x="77.5" y="566.3" font-size="7" fill="#2e5a8e" text-anchor="start" textLength="67.5" lengthAdjust="spacingAndGlyphs">CSAPGTGFSYEQYF</text>
<line x1="69.7" y1="543" x2="69.7" y2="667.2" stroke="#151515" stroke-width="1.5"/>
<line x1="66.2" y1="666.6" x2="69.7" y2="666.6" stroke="#151515" stroke-width="1.1"/>
<text x="62.5" y="669.7" font-size="9.9" fill="#333" text-anchor="end" stroke="#333" stroke-width="0.2" textLength="5.15" lengthAdjust="spacingAndGlyphs">0</text>
<line x1="66.2" y1="626.6" x2="69.7" y2="626.6" stroke="#151515" stroke-width="1.1"/>
<text x="62.5" y="629.7" font-size="9.9" fill="#333" text-anchor="end" stroke="#333" stroke-width="0.2" textLength="10.3" lengthAdjust="spacingAndGlyphs">10</text>
<line x1="66.2" y1="586.4" x2="69.7" y2="586.4" stroke="#151515" stroke-width="1.1"/>
<text x="62.5" y="589.5" font-size="9.9" fill="#333" text-anchor="end" stroke="#333" stroke-width="0.2" textLength="10.3" lengthAdjust="spacingAndGlyphs">20</text>
<line x1="66.2" y1="546.3" x2="69.7" y2="546.3" stroke="#151515" stroke-width="1.1"/>
<text x="62.5" y="549.4" font-size="9.9" fill="#333" text-anchor="end" stroke="#333" stroke-width="0.2" textLength="10.3" lengthAdjust="spacingAndGlyphs">30</text>
<line x1="69.1" y1="666.8" x2="193.3" y2="666.8" stroke="#151515" stroke-width="1.5"/>
<line x1="77.4" y1="666.8" x2="77.4" y2="670.2" stroke="#151515" stroke-width="1.1"/>
<text x="77.4" y="682.9" font-size="10.4" fill="#333" text-anchor="middle" stroke="#333" stroke-width="0.25" textLength="5.15" lengthAdjust="spacingAndGlyphs">0</text>
<line x1="120.5" y1="666.8" x2="120.5" y2="670.2" stroke="#151515" stroke-width="1.1"/>
<text x="120.5" y="682.9" font-size="10.4" fill="#333" text-anchor="middle" stroke="#333" stroke-width="0.25" textLength="5.15" lengthAdjust="spacingAndGlyphs">5</text>
<line x1="163.7" y1="666.8" x2="163.7" y2="670.2" stroke="#151515" stroke-width="1.1"/>
<text x="163.7" y="682.9" font-size="10.4" fill="#333" text-anchor="middle" stroke="#333" stroke-width="0.25" textLength="10.3" lengthAdjust="spacingAndGlyphs">10</text>
<text x="135.4" y="698.1" font-size="10.8" fill="#333" text-anchor="middle" stroke="#333" stroke-width="0.25" textLength="58.4" lengthAdjust="spacingAndGlyphs">Time (months)</text>
<polyline points="77.5,584 120.2,588.3 186.9,550.5" fill="none" stroke="#c40f2d" stroke-width="1.3" stroke-linejoin="round"/>
<circle cx="77.5" cy="584" r="3" fill="#c40f2d"/>
<circle cx="120.2" cy="588.3" r="3" fill="#c40f2d"/>
<circle cx="186.9" cy="550.5" r="3" fill="#c40f2d"/>
<polyline points="77.5,647.1 120.6,651.4 187.1,639.4" fill="none" stroke="#4ca53f" stroke-width="1.3" stroke-linejoin="round"/>
<circle cx="77.5" cy="647.1" r="3" fill="#4ca53f"/>
<circle cx="120.6" cy="651.4" r="3" fill="#4ca53f"/>
<circle cx="187.1" cy="639.4" r="3" fill="#4ca53f"/>
<polyline points="77.5,663.1 120.6,659.1 187.1,660.6" fill="none" stroke="#1d4573" stroke-width="1.3" stroke-linejoin="round"/>
<circle cx="77.5" cy="663.1" r="3" fill="#173a64"/>
<circle cx="120.6" cy="659.1" r="3" fill="#173a64"/>
<circle cx="187.1" cy="660.6" r="3" fill="#173a64"/>
<text x="381.5" y="402" font-size="9.6" fill="#333" text-anchor="middle" stroke="#333" stroke-width="0.15" textLength="38" lengthAdjust="spacingAndGlyphs">Patient 2</text>
<text transform="translate(287 461.9) rotate(-90)" x="0" y="0" font-size="10.8" fill="#2c5f91" text-anchor="middle" stroke="#2c5f91" stroke-width="0.25" textLength="84" lengthAdjust="spacingAndGlyphs">Platelet count (10<tspan font-size="8" dy="-3.2">9</tspan><tspan dy="3.2">/L)</tspan></text>
<text transform="translate(478.6 463) rotate(90)" x="0" y="0" font-size="10.8" fill="#c02846" text-anchor="middle" stroke="#c02846" stroke-width="0.25" textLength="75" lengthAdjust="spacingAndGlyphs">Unique clonotypes</text>
<line x1="316.6" y1="408.4" x2="316.6" y2="519.9" stroke="#151515" stroke-width="1.5"/>
<line x1="313.2" y1="517" x2="316.6" y2="517" stroke="#151515" stroke-width="1.1"/>
<text x="309.8" y="520.1" font-size="9.9" fill="#333" text-anchor="end" stroke="#333" stroke-width="0.2" textLength="5.15" lengthAdjust="spacingAndGlyphs">0</text>
<line x1="313.2" y1="493.1" x2="316.6" y2="493.1" stroke="#151515" stroke-width="1.1"/>
<text x="309.8" y="496.2" font-size="9.9" fill="#333" text-anchor="end" stroke="#333" stroke-width="0.2" textLength="10.3" lengthAdjust="spacingAndGlyphs">50</text>
<line x1="313.2" y1="469.4" x2="316.6" y2="469.4" stroke="#151515" stroke-width="1.1"/>
<text x="309.8" y="472.5" font-size="9.9" fill="#333" text-anchor="end" stroke="#333" stroke-width="0.2" textLength="15.45" lengthAdjust="spacingAndGlyphs">100</text>
<line x1="313.2" y1="445.7" x2="316.6" y2="445.7" stroke="#151515" stroke-width="1.1"/>
<text x="309.8" y="448.8" font-size="9.9" fill="#333" text-anchor="end" stroke="#333" stroke-width="0.2" textLength="15.45" lengthAdjust="spacingAndGlyphs">150</text>
<line x1="313.2" y1="422.1" x2="316.6" y2="422.1" stroke="#151515" stroke-width="1.1"/>
<text x="309.8" y="425.2" font-size="9.9" fill="#333" text-anchor="end" stroke="#333" stroke-width="0.2" textLength="15.45" lengthAdjust="spacingAndGlyphs">200</text>
<line x1="316" y1="519.4" x2="455.6" y2="519.4" stroke="#151515" stroke-width="1.5"/>
<line x1="321.6" y1="519.4" x2="321.6" y2="523" stroke="#151515" stroke-width="1.1"/>
<line x1="347.6" y1="519.4" x2="347.6" y2="523" stroke="#151515" stroke-width="1.1"/>
<line x1="373.5" y1="519.4" x2="373.5" y2="523" stroke="#151515" stroke-width="1.1"/>
<line x1="399.2" y1="519.4" x2="399.2" y2="523" stroke="#151515" stroke-width="1.1"/>
<line x1="424.8" y1="519.4" x2="424.8" y2="523" stroke="#151515" stroke-width="1.1"/>
<path d="M455.4,405 L455.4,506.5 L453.2,509.2" fill="none" stroke="#151515" stroke-width="1.3"/>
<path d="M453.6,512.3 L455.4,514.2 L455.4,519.9" fill="none" stroke="#151515" stroke-width="1.3"/>
<line x1="455.4" y1="516.9" x2="458.6" y2="516.9" stroke="#151515" stroke-width="1.1"/>
<text x="462.3" y="520" font-size="9.9" fill="#333" text-anchor="start" stroke="#333" stroke-width="0.2" textLength="5.15" lengthAdjust="spacingAndGlyphs">0</text>
<line x1="455.4" y1="498.3" x2="458.6" y2="498.3" stroke="#151515" stroke-width="1.1"/>
<text x="462.3" y="501.4" font-size="9.9" fill="#333" text-anchor="start" stroke="#333" stroke-width="0.2" textLength="10.3" lengthAdjust="spacingAndGlyphs">30</text>
<line x1="455.4" y1="475.9" x2="458.6" y2="475.9" stroke="#151515" stroke-width="1.1"/>
<text x="462.3" y="479" font-size="9.9" fill="#333" text-anchor="start" stroke="#333" stroke-width="0.2" textLength="10.3" lengthAdjust="spacingAndGlyphs">40</text>
<line x1="455.4" y1="453.4" x2="458.6" y2="453.4" stroke="#151515" stroke-width="1.1"/>
<text x="462.3" y="456.5" font-size="9.9" fill="#333" text-anchor="start" stroke="#333" stroke-width="0.2" textLength="10.3" lengthAdjust="spacingAndGlyphs">50</text>
<line x1="455.4" y1="430.6" x2="458.6" y2="430.6" stroke="#151515" stroke-width="1.1"/>
<text x="462.3" y="433.7" font-size="9.9" fill="#333" text-anchor="start" stroke="#333" stroke-width="0.2" textLength="10.3" lengthAdjust="spacingAndGlyphs">60</text>
<line x1="455.4" y1="407.5" x2="458.6" y2="407.5" stroke="#151515" stroke-width="1.1"/>
<text x="462.3" y="410.6" font-size="9.9" fill="#333" text-anchor="start" stroke="#333" stroke-width="0.2" textLength="10.3" lengthAdjust="spacingAndGlyphs">70</text>
<polyline points="321.5,508.2 379.5,485 402.5,455.8 406.3,485.4 413.2,410.6 439.8,489.6" fill="none" stroke="#c40f2d" stroke-width="1.3" stroke-linejoin="round"/>
<polyline points="321.5,511.8 379.5,511.3 402.5,423.6 406.3,507 413.2,457 424.3,514.2 439.6,511.4" fill="none" stroke="#1d4573" stroke-width="1.3" stroke-linejoin="round"/>
<circle cx="321.5" cy="508.2" r="3" fill="#c40f2d"/>
<circle cx="379.5" cy="485" r="3" fill="#c40f2d"/>
<circle cx="402.5" cy="455.8" r="3" fill="#c40f2d"/>
<circle cx="406.3" cy="485.4" r="3" fill="#c40f2d"/>
<circle cx="413.2" cy="410.6" r="3" fill="#c40f2d"/>
<circle cx="439.8" cy="489.6" r="3" fill="#c40f2d"/>
<circle cx="321.5" cy="511.8" r="3" fill="#173a64"/>
<circle cx="379.5" cy="511.3" r="3" fill="#173a64"/>
<circle cx="402.5" cy="423.6" r="3" fill="#173a64"/>
<circle cx="406.3" cy="507" r="3" fill="#173a64"/>
<circle cx="413.2" cy="457" r="3" fill="#173a64"/>
<circle cx="424.3" cy="514.2" r="3" fill="#173a64"/>
<circle cx="439.6" cy="511.4" r="3" fill="#173a64"/>
<text transform="translate(279.6 608) rotate(-90)" x="0" y="0" font-size="10.8" fill="#333" text-anchor="middle" stroke="#333" stroke-width="0.25" textLength="98" lengthAdjust="spacingAndGlyphs">Occupancy of T cell space</text>
<text transform="translate(292.3 608.5) rotate(-90)" x="0" y="0" font-size="10.8" fill="#333" text-anchor="middle" stroke="#333" stroke-width="0.25" textLength="38" lengthAdjust="spacingAndGlyphs">(percent)</text>
<text x="320.3" y="545.6" font-size="7" fill="#9fb57a" text-anchor="start" textLength="59.6" lengthAdjust="spacingAndGlyphs">CSVGVNGREQYF</text>
<text x="320.3" y="556.3" font-size="7" fill="#8d87c6" text-anchor="start" textLength="64.5" lengthAdjust="spacingAndGlyphs">CASSLQVGNEQFF</text>
<text x="320.3" y="566.3" font-size="7" fill="#c01f3e" text-anchor="start" textLength="80.7" lengthAdjust="spacingAndGlyphs">CASTEESDRGYNSPLHF</text>
<line x1="316.1" y1="546" x2="316.1" y2="668.2" stroke="#151515" stroke-width="1.5"/>
<line x1="312.8" y1="667.2" x2="316.1" y2="667.2" stroke="#151515" stroke-width="1.1"/>
<text x="309.5" y="670.3" font-size="9.9" fill="#333" text-anchor="end" stroke="#333" stroke-width="0.2" textLength="5.15" lengthAdjust="spacingAndGlyphs">0</text>
<line x1="312.8" y1="643.7" x2="316.1" y2="643.7" stroke="#151515" stroke-width="1.1"/>
<text x="309.5" y="646.8" font-size="9.9" fill="#333" text-anchor="end" stroke="#333" stroke-width="0.2" textLength="5.15" lengthAdjust="spacingAndGlyphs">2</text>
<line x1="312.8" y1="620.3" x2="316.1" y2="620.3" stroke="#151515" stroke-width="1.1"/>
<text x="309.5" y="623.4" font-size="9.9" fill="#333" text-anchor="end" stroke="#333" stroke-width="0.2" textLength="5.15" lengthAdjust="spacingAndGlyphs">4</text>
<line x1="312.8" y1="596.9" x2="316.1" y2="596.9" stroke="#151515" stroke-width="1.1"/>
<text x="309.5" y="600" font-size="9.9" fill="#333" text-anchor="end" stroke="#333" stroke-width="0.2" textLength="5.15" lengthAdjust="spacingAndGlyphs">6</text>
<line x1="312.8" y1="573.1" x2="316.1" y2="573.1" stroke="#151515" stroke-width="1.1"/>
<text x="309.5" y="576.2" font-size="9.9" fill="#333" text-anchor="end" stroke="#333" stroke-width="0.2" textLength="5.15" lengthAdjust="spacingAndGlyphs">8</text>
<line x1="312.8" y1="548.8" x2="316.1" y2="548.8" stroke="#151515" stroke-width="1.1"/>
<text x="309.5" y="551.9" font-size="9.9" fill="#333" text-anchor="end" stroke="#333" stroke-width="0.2" textLength="10.3" lengthAdjust="spacingAndGlyphs">10</text>
<line x1="315.5" y1="667.7" x2="442.3" y2="667.7" stroke="#151515" stroke-width="1.5"/>
<line x1="321.5" y1="667.7" x2="321.5" y2="671.2" stroke="#151515" stroke-width="1.1"/>
<text x="321.5" y="684.1" font-size="10.4" fill="#333" text-anchor="middle" stroke="#333" stroke-width="0.25" textLength="5.15" lengthAdjust="spacingAndGlyphs">0</text>
<line x1="347.7" y1="667.7" x2="347.7" y2="671.2" stroke="#151515" stroke-width="1.1"/>
<text x="347.7" y="684.1" font-size="10.4" fill="#333" text-anchor="middle" stroke="#333" stroke-width="0.25" textLength="10.3" lengthAdjust="spacingAndGlyphs">10</text>
<line x1="373.3" y1="667.7" x2="373.3" y2="671.2" stroke="#151515" stroke-width="1.1"/>
<text x="373.3" y="684.1" font-size="10.4" fill="#333" text-anchor="middle" stroke="#333" stroke-width="0.25" textLength="10.3" lengthAdjust="spacingAndGlyphs">20</text>
<line x1="399.1" y1="667.7" x2="399.1" y2="671.2" stroke="#151515" stroke-width="1.1"/>
<text x="399.1" y="684.1" font-size="10.4" fill="#333" text-anchor="middle" stroke="#333" stroke-width="0.25" textLength="10.3" lengthAdjust="spacingAndGlyphs">30</text>
<line x1="424.6" y1="667.7" x2="424.6" y2="671.2" stroke="#151515" stroke-width="1.1"/>
<text x="424.6" y="684.1" font-size="10.4" fill="#333" text-anchor="middle" stroke="#333" stroke-width="0.25" textLength="10.3" lengthAdjust="spacingAndGlyphs">40</text>
<text x="373.8" y="698.4" font-size="10.8" fill="#333" text-anchor="middle" stroke="#333" stroke-width="0.25" textLength="58.4" lengthAdjust="spacingAndGlyphs">Time (months)</text>
<polyline points="322,602.7 380.6,582.8 403.5,594 407.3,566.1 414,573.3 425,582.5 439.9,563.7" fill="none" stroke="#a2b67a" stroke-width="1.3" stroke-linejoin="round"/>
<circle cx="322" cy="602.7" r="3" fill="#a2b67a"/>
<circle cx="380.6" cy="582.8" r="3" fill="#a2b67a"/>
<circle cx="403.5" cy="594" r="3" fill="#a2b67a"/>
<circle cx="407.3" cy="566.1" r="3" fill="#a2b67a"/>
<circle cx="414" cy="573.3" r="3" fill="#a2b67a"/>
<circle cx="425" cy="582.5" r="3" fill="#a2b67a"/>
<circle cx="439.9" cy="563.7" r="3" fill="#a2b67a"/>
<polyline points="321.5,651.7 380,632.3 403.7,635.4 407.7,627.7 414.5,648.6 424.6,652.9 440,647.1" fill="none" stroke="#9b94cc" stroke-width="1.3" stroke-linejoin="round"/>
<circle cx="321.5" cy="651.7" r="3" fill="#9b94cc"/>
<circle cx="380" cy="632.3" r="3" fill="#9b94cc"/>
<circle cx="403.7" cy="635.4" r="3" fill="#9b94cc"/>
<circle cx="407.7" cy="627.7" r="3" fill="#9b94cc"/>
<circle cx="414.5" cy="648.6" r="3" fill="#9b94cc"/>
<circle cx="424.6" cy="652.9" r="3" fill="#9b94cc"/>
<circle cx="440" cy="647.1" r="3" fill="#9b94cc"/>
<polyline points="321.5,652.9 380,648.6 403.7,649.8 407.7,651.7 414.5,635.4 424.6,635.4 440,614.5" fill="none" stroke="#c40f2d" stroke-width="1.3" stroke-linejoin="round"/>
<circle cx="321.5" cy="652.9" r="3" fill="#c40f2d"/>
<circle cx="380" cy="648.6" r="3" fill="#c40f2d"/>
<circle cx="403.7" cy="649.8" r="3" fill="#c40f2d"/>
<circle cx="407.7" cy="651.7" r="3" fill="#c40f2d"/>
<circle cx="414.5" cy="635.4" r="3" fill="#c40f2d"/>
<circle cx="424.6" cy="635.4" r="3" fill="#c40f2d"/>
<circle cx="440" cy="614.5" r="3" fill="#c40f2d"/>
<circle cx="407.3" cy="566.1" r="3.4" fill="#a2b67a"/>
<rect x="0.5" y="0.5" width="519" height="708.6" fill="none" stroke="#3a3a3a" stroke-width="1.1"/>
<line x1="0" y1="709.4" x2="520" y2="709.4" stroke="#3a3a3a" stroke-width="1.5"/>
</svg></body></html>
